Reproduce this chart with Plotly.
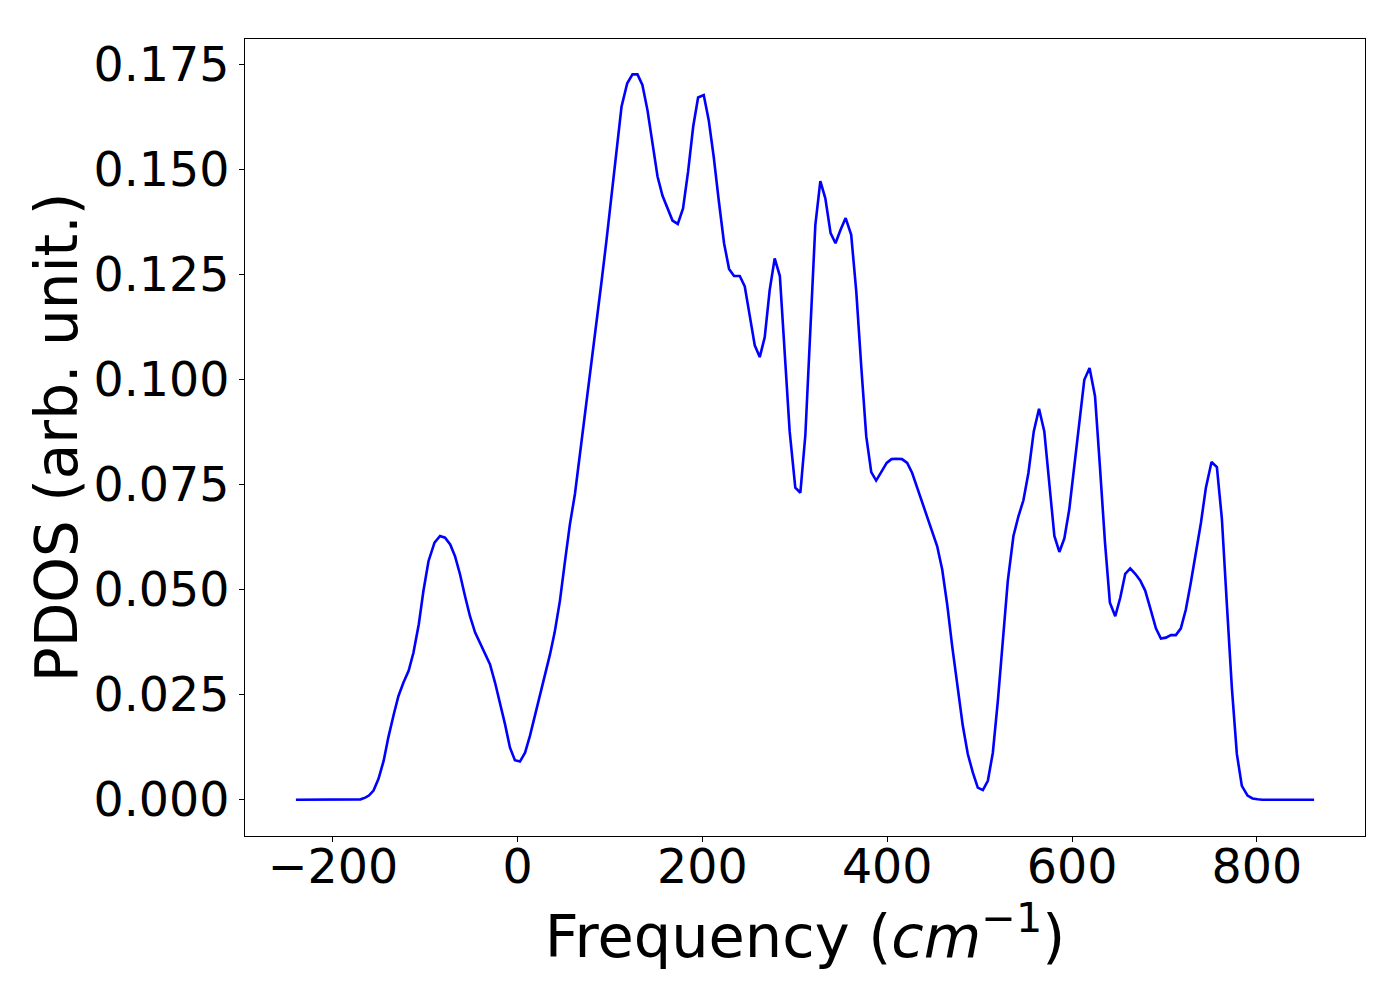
import plotly.graph_objects as go

# Frequency (cm^-1) and PDOS values
freq = [-240, -200, -176, -170, -165, -161, -156, -150.6, -145, -140, -134, -129, -123.6, -118,
        -112.8, -107, -102, -96.5, -90, -84, -78.6, -73, -67.8, -62.4, -57, -51.6, -46, -40.7,
        -35.3, -30, -24.5, -19, -13.7, -8.3, -3, 2.5, 8, 13.3, 18.7, 24, 29.5, 35, 40, 45.7, 51,
        56.5, 62, 67.6, 73, 78.5, 85.4, 90.8, 96.2, 101.6, 107, 112.4, 118.6, 124.3, 129.7, 135,
        140.5, 146, 151.4, 156.8, 162, 167.6, 173.3, 179, 184.5, 190, 195.3, 201.4, 206.8, 212.2,
        217.6, 223.4, 228.8, 234.2, 240.4, 245.8, 251, 256.6, 262, 267.4, 272.8, 278.2, 283.8,
        289, 294.4, 300.5, 306, 311.4, 316.8, 322.2, 327.6, 333, 338.7, 344, 349.5, 355, 361,
        366.5, 372, 377.3, 382.7, 388, 393.5, 399.4, 404.6, 410, 416, 421.6, 427, 432.4, 437.8,
        443.2, 448.6, 454, 459.5, 464.9, 470.3, 475.7, 481.8, 487.2, 492.6, 498, 503.5, 508.9,
        514.3, 519.7, 525, 530.5, 536.6, 542, 547.4, 552.8, 558.6, 564.3, 570, 575.5, 580.9,
        586.3, 591.7, 597, 602.5, 608, 613.3, 619, 624.9, 630.3, 635.7, 641, 646.8, 652.2, 657.6,
        663, 668.4, 673.8, 679.2, 684.6, 690.8, 696.2, 701.6, 707, 712.4, 717.8, 723.2, 728.6,
        734, 739.5, 744.9, 751, 756.8, 762.2, 767.6, 773, 778.4, 783.8, 790, 795.4, 800.8, 806,
        862]
pdos = [0, 0, 0, 0.0001, 0.0005, 0.001, 0.0022, 0.005, 0.0093, 0.0148, 0.0204, 0.0247, 0.0279,
        0.0307, 0.035, 0.0418, 0.0497, 0.0568, 0.0612, 0.0628, 0.0624, 0.0608, 0.058, 0.0537,
        0.0485, 0.0437, 0.0398, 0.0374, 0.035, 0.0323, 0.0279, 0.0231, 0.018, 0.0124, 0.0094,
        0.0091, 0.0112, 0.0152, 0.02, 0.0251, 0.0299, 0.0346, 0.0398, 0.0473, 0.0564, 0.0655,
        0.0728, 0.0825, 0.092, 0.1017, 0.1131, 0.1234, 0.1333, 0.1444, 0.1555, 0.165, 0.1706,
        0.1727, 0.1727, 0.1702, 0.1642, 0.1559, 0.1484, 0.1438, 0.1408, 0.1379, 0.1371, 0.1408,
        0.1496, 0.1603, 0.1672, 0.1678, 0.1618, 0.1531, 0.1428, 0.1325, 0.1264, 0.1247, 0.1247,
        0.1222, 0.1155, 0.1082, 0.1054, 0.1101, 0.1214, 0.1289, 0.1247, 0.1068, 0.0877, 0.0743,
        0.0731, 0.0869, 0.1115, 0.1369, 0.1473, 0.1432, 0.1349, 0.1325, 0.1357, 0.1385, 0.1345,
        0.121, 0.1028, 0.0865, 0.078, 0.076, 0.078, 0.0802, 0.0811, 0.0812, 0.0811, 0.0802,
        0.0778, 0.0743, 0.0707, 0.0671, 0.0638, 0.0604, 0.0548, 0.0465, 0.0366, 0.0271, 0.0176,
        0.0109, 0.0065, 0.0029, 0.0023, 0.0045, 0.0112, 0.0235, 0.0378, 0.0521, 0.0628, 0.0675,
        0.0713, 0.0778, 0.0877, 0.0931, 0.0877, 0.0751, 0.0628, 0.059, 0.0622, 0.0691, 0.0794,
        0.0909, 0.1, 0.1028, 0.0961, 0.079, 0.0612, 0.0469, 0.0437, 0.0481, 0.0538, 0.0551,
        0.0538, 0.0522, 0.0498, 0.0457, 0.0408, 0.0384, 0.0386, 0.0392, 0.0392, 0.0408, 0.0453,
        0.0517, 0.0584, 0.0659, 0.0743, 0.0804, 0.0792, 0.0669, 0.0465, 0.0267, 0.0109, 0.0033,
        0.001, 0.0003, 0.0001, 0, 0]

x_ticks = [-200, 0, 200, 400, 600, 800]
y_ticks = [0.0, 0.025, 0.05, 0.075, 0.1, 0.125, 0.15, 0.175]

fig = go.Figure()
fig.add_trace(go.Scatter(x=freq, y=pdos, mode="lines",
                         line=dict(color="#0000ff", width=2.6), showlegend=False))

font = "DejaVu Sans"
axis_common = dict(showline=True, linecolor="black", linewidth=1.2, mirror=True,
                   ticks="outside", ticklen=5, tickwidth=1.2, tickcolor="black",
                   showgrid=False, zeroline=False,
                   tickfont=dict(family=font, size=47.5, color="black"))

fig.update_layout(
    width=1400, height=1000,
    paper_bgcolor="white", plot_bgcolor="white",
    margin=dict(l=237, r=43, t=31, b=172),
    xaxis=dict(range=[-295.1, 917.1], tickvals=x_ticks,
               ticktext=[str(v).replace("-", "\u2212") for v in x_ticks],
               ticklabelstandoff=-16,
               title=dict(text="Frequency (<i>cm</i><sup>\u22121</sup>)",
                          font=dict(family=font, size=59, color="black"), standoff=0),
               **axis_common),
    yaxis=dict(range=[-0.00863, 0.18113], tickvals=y_ticks,
               ticktext=[f"{v:.3f}" for v in y_ticks],
               **axis_common),
    annotations=[dict(text="PDOS (arb. unit.)", textangle=-90, showarrow=False,
                      xref="paper", yref="paper", x=-0.168, y=0.5,
                      xanchor="center", yanchor="middle",
                      font=dict(family=font, size=58, color="black"))],
)

fig.write_html("out.html")
